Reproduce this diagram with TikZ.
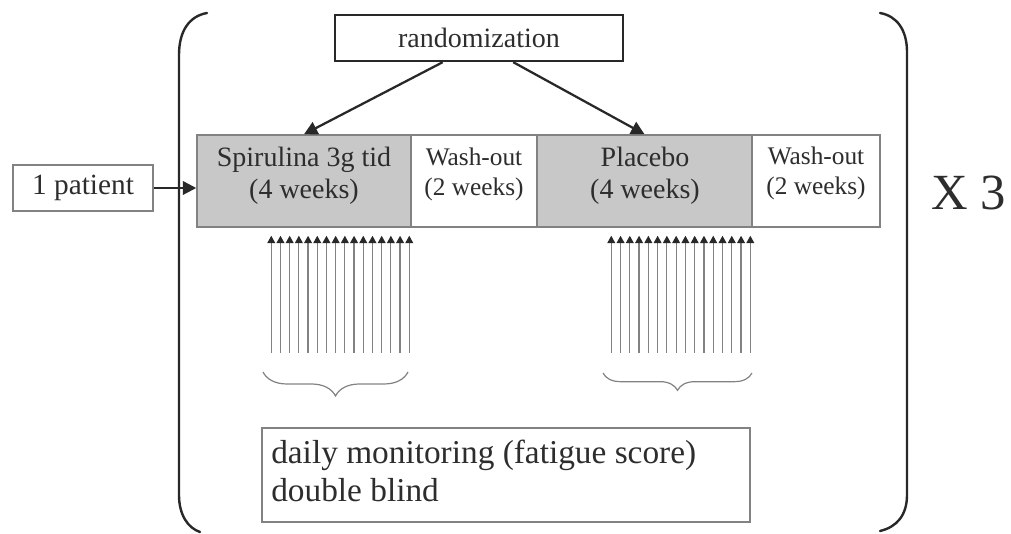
\documentclass[tikz,border=0pt]{standalone}
\usepackage{fontspec}
\setmainfont{Liberation Serif}
\usetikzlibrary{arrows.meta,decorations.pathreplacing,calc}
\definecolor{fillg}{RGB}{200,200,200}
\definecolor{lineg}{RGB}{130,130,130}
\definecolor{txtc}{RGB}{45,45,45}
\definecolor{darkc}{RGB}{40,40,40}
\begin{document}
\begin{tikzpicture}[x=0.75pt,y=-0.75pt,
  box/.style={draw=lineg, line width=1.1pt, inner sep=0pt, text=txtc},
  period/.style={box, fill=fillg, minimum height=69pt},
  washbox/.style={box, fill=white, minimum height=69pt},
  ptxt/.style={text=txtc, align=center, inner sep=0pt, font=\fontsize{21}{24}\selectfont},
  wtxt/.style={text=txtc, align=center, inner sep=0pt, font=\fontsize{19}{22.5}\selectfont},
  conn/.style={draw=darkc, line width=1.7pt, -{Triangle[length=10pt,width=10pt]}},
  tick/.style={draw=lineg, line width=0.9pt, -{Triangle[length=5.5pt,width=5.8pt,color=darkc]}},
  brc/.style={draw=lineg, line width=0.9pt, decorate},
  bigbr/.style={draw=darkc, line width=1.8pt, line cap=round}
]
\useasboundingbox (0,0) rectangle (1011,534);

% boxes
\node[box, draw=darkc, line width=1.8pt, minimum width=216pt, minimum height=34.5pt,
      font=\fontsize{21}{24}\selectfont] (rand) at (479,38) {randomization};
\node[box, minimum width=105pt, minimum height=34.5pt,
      font=\fontsize{22}{26}\selectfont] (pat) at (83,188) {1 patient\hspace{8pt}};
\node[period, minimum width=160.5pt] (spir) at (304,181) {};
\node[washbox, minimum width=94.5pt] (wash1) at (474,181) {};
\node[period, minimum width=161.25pt] (plac) at (644.5,181) {};
\node[washbox, minimum width=96pt] (wash2) at (816,181) {};
\node[box, minimum width=366pt, minimum height=70.5pt] (daily) at (506,475) {};

% texts
\node[ptxt] (spirt) at (304,176) {Spirulina 3g tid\\(4 weeks)};
\node[wtxt] (wash1t) at (474,174) {Wash-out\\(2 weeks)};
\node[ptxt] (plact) at (645,176) {Placebo\\(4 weeks)};
\node[wtxt] (wash2t) at (816,173) {Wash-out\\(2 weeks)};
\node[text=txtc, align=left, inner sep=0pt, anchor=north west,
      font=\fontsize{25}{28.5}\selectfont] (dailyt) at (271,440)
      {daily monitoring (fatigue score)\\double blind};
\node[text=txtc, inner sep=0pt, anchor=base,
      font=\fontsize{38}{40}\selectfont] (times) at (969,210) {X 3};

% connectors
\draw[conn] ($(rand.south west)!0.375!(rand.south east)$) -- (spir.north);
\draw[conn] ($(rand.south west)!0.618!(rand.south east)$) -- (plac.north);
\draw[conn] (pat.east) -- (pat.east -| spir.west);

% daily monitoring arrows
\foreach \i in {0,...,15} {
  \draw[tick] ($(spir.south west)+(75+\i*9.2,125)$) -- ($(spir.south west)+(75+\i*9.2,8)$);
  \draw[tick] ($(plac.south west)+(75+\i*9.27,125)$) -- ($(plac.south west)+(75+\i*9.27,8)$);
}

% braces
\draw[brc, decoration={brace, mirror, amplitude=18pt}] (263,372) -- (408,372);
\draw[brc, decoration={brace, mirror, amplitude=13pt}] (603,373) -- (752,373);

% big brackets
\draw[bigbr] (207,13) .. controls (190,16) and (179,30) .. (179,55) -- (179,495)
  .. controls (179,515) and (188,528) .. (200,532);
\draw[bigbr] (880,13) .. controls (897,16) and (907,30) .. (907,52) -- (907,495)
  .. controls (907,515) and (897,527) .. (880,531);
\end{tikzpicture}
\end{document}
